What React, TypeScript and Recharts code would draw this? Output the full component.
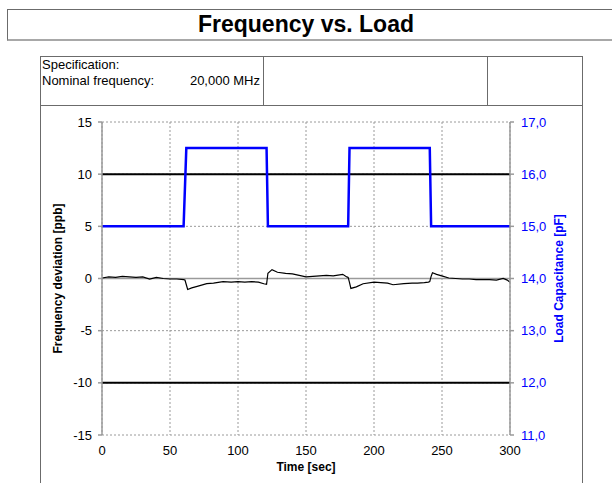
import { LineChart, Line, XAxis, YAxis, CartesianGrid, ReferenceLine } from 'recharts'

const X_TICKS = [0, 50, 100, 150, 200, 250, 300]
const PPB_TICKS = [-15, -10, -5, 0, 5, 10, 15]
const PF_TICKS = [11, 12, 13, 14, 15, 16, 17]
const LIMITS = [-10, 10]

// frequency deviation
const FREQ_T = [
  0, 5, 10, 15, 20, 25, 30, 35, 40, 45, 50, 55, 60, 61, 62, 63, 66, 70, 77, 82, 89, 95, 100, 105,
  110, 115, 119, 121, 122, 125, 129, 135, 140, 145, 150, 155, 160, 165, 170, 177, 180, 181, 182, 183,
  187, 192, 200, 205, 210, 214, 222, 228, 232, 237, 240, 241, 242, 243, 246, 251, 255, 260, 265,
  270, 275, 280, 285, 290, 295, 298, 300,
]
const FREQ_PPB = [
  0.05, 0.15, 0.1, 0.2, 0.15, 0.1, 0.15, -0.05, 0.1, 0.0, -0.05, -0.05, -0.1, -0.15, -0.6, -1.05,
  -0.9, -0.75, -0.5, -0.45, -0.3, -0.35, -0.3, -0.35, -0.3, -0.35, -0.5, -0.55, 0.5, 0.85, 0.6,
  0.5, 0.45, 0.3, 0.15, 0.2, 0.25, 0.3, 0.25, 0.4, 0.15, 0.1, -0.4, -0.95, -0.8, -0.5, -0.35,
  -0.4, -0.45, -0.6, -0.5, -0.45, -0.45, -0.4, -0.35, -0.3, 0.2, 0.55, 0.4, 0.2, 0.05, 0.0,
  -0.05, -0.05, -0.1, -0.1, -0.1, -0.15, 0.0, -0.15, -0.35,
]

// load capacitance steps
const LOAD_T = [0, 60, 62, 121, 122, 181, 182, 241, 242, 300]
const LOAD_PF = [15, 15, 16.5, 16.5, 15, 15, 16.5, 16.5, 15, 15]

const freqData = FREQ_T.map((t, i) => ({ t, v: FREQ_PPB[i] }))
const loadData = LOAD_T.map((t, i) => ({ t, c: LOAD_PF[i] }))

const FONT = '"Liberation Sans", Arial, sans-serif'
const BORDER = '#6b6b6b'

export default function App() {
  return (
    <div style={{ position: 'absolute', left: 0, top: 0, width: 612, height: 483, background: '#fff', fontFamily: FONT, overflow: 'hidden' }}>
      {/* title box */}
      <div style={{
        position: 'absolute', left: 7, top: 9, width: 620, height: 29,
        borderTop: `1px solid ${BORDER}`, borderLeft: `1px solid ${BORDER}`, borderBottom: '2px solid #a8a8a8',
      }} />
      <div style={{ position: 'absolute', left: 0, top: 11, width: 612, textAlign: 'center', fontSize: 23, fontWeight: 'bold', color: '#000' }}>
        Frequency vs. Load
      </div>

      {/* spec table */}
      <div style={{ position: 'absolute', left: 40, top: 56, width: 543, height: 50, border: `1px solid ${BORDER}`, boxSizing: 'border-box' }} />
      <div style={{ position: 'absolute', left: 263, top: 56, width: 1, height: 50, background: BORDER }} />
      <div style={{ position: 'absolute', left: 487, top: 56, width: 1, height: 50, background: BORDER }} />
      <div style={{ position: 'absolute', left: 42, top: 57, fontSize: 13, lineHeight: '15px', color: '#000' }}>Specification:</div>
      <div style={{ position: 'absolute', left: 42, top: 73, fontSize: 13, lineHeight: '15px', color: '#000' }}>Nominal frequency:</div>
      <div style={{ position: 'absolute', left: 150, top: 73, width: 110, textAlign: 'right', fontSize: 13, lineHeight: '15px', color: '#000' }}>20,000 MHz</div>

      {/* chart frame */}
      <div style={{ position: 'absolute', left: 40, top: 105, width: 1, height: 400, background: BORDER }} />
      <div style={{ position: 'absolute', left: 582, top: 105, width: 1, height: 400, background: BORDER }} />

      <div style={{ position: 'absolute', left: 0, top: 0 }}>
        <LineChart width={612} height={483} margin={{ top: 122, right: 42, bottom: 8, left: 42 }}>
          <CartesianGrid yAxisId="ppb" stroke="#9a9a9a" strokeDasharray="2 2" />
          <XAxis
            dataKey="t"
            type="number"
            domain={[0, 300]}
            ticks={X_TICKS}
            allowDuplicatedCategory={false}
            axisLine={false}
            tickLine={false}
            tickSize={6}
            tickMargin={5}
            height={40}
            tick={{ fontSize: 13, fill: '#000', fontFamily: FONT }}
            label={{ value: 'Time [sec]', position: 'insideBottom', offset: 4, style: { fontSize: 12, fontWeight: 'bold', fill: '#000', fontFamily: FONT } }}
          />
          <YAxis
            yAxisId="ppb"
            domain={[-15, 15]}
            ticks={PPB_TICKS}
            width={60}
            stroke="#9a9a9a"
            strokeWidth={1.5}
            tickSize={4}
            tickMargin={6}
            tick={{ fontSize: 13, fill: '#000', fontFamily: FONT }}
            label={{ value: 'Frequency deviation [ppb]', angle: -90, position: 'insideLeft', offset: 16, style: { textAnchor: 'middle', fontSize: 12, fontWeight: 'bold', fill: '#000', fontFamily: FONT } }}
          />
          <YAxis
            yAxisId="pf"
            orientation="right"
            domain={[11, 17]}
            ticks={PF_TICKS}
            width={60}
            stroke="#9a9a9a"
            strokeWidth={1.5}
            tickSize={4}
            tickMargin={7}
            tickFormatter={(v: number) => v.toFixed(1).replace('.', ',')}
            tick={{ fontSize: 13, fill: '#0000ff', fontFamily: FONT }}
            label={{ value: 'Load Capacitance [pF]', angle: -90, position: 'insideRight', offset: 11, style: { textAnchor: 'middle', fontSize: 12, fontWeight: 'bold', fill: '#0000ff', fontFamily: FONT } }}
          />
          <ReferenceLine yAxisId="ppb" y={0} stroke="#9a9a9a" strokeWidth={1.5} />
          {LIMITS.map(l => (
            <ReferenceLine key={l} yAxisId="ppb" y={l} stroke="#000" strokeWidth={2} />
          ))}
          <Line
            yAxisId="pf"
            data={loadData}
            dataKey="c"
            type="linear"
            stroke="#0000ff"
            strokeWidth={2.5}
            dot={false}
            isAnimationActive={false}
          />
          <Line
            yAxisId="ppb"
            data={freqData}
            dataKey="v"
            type="linear"
            stroke="#000"
            strokeWidth={1.2}
            dot={false}
            isAnimationActive={false}
          />
        </LineChart>
      </div>
    </div>
  )
}
